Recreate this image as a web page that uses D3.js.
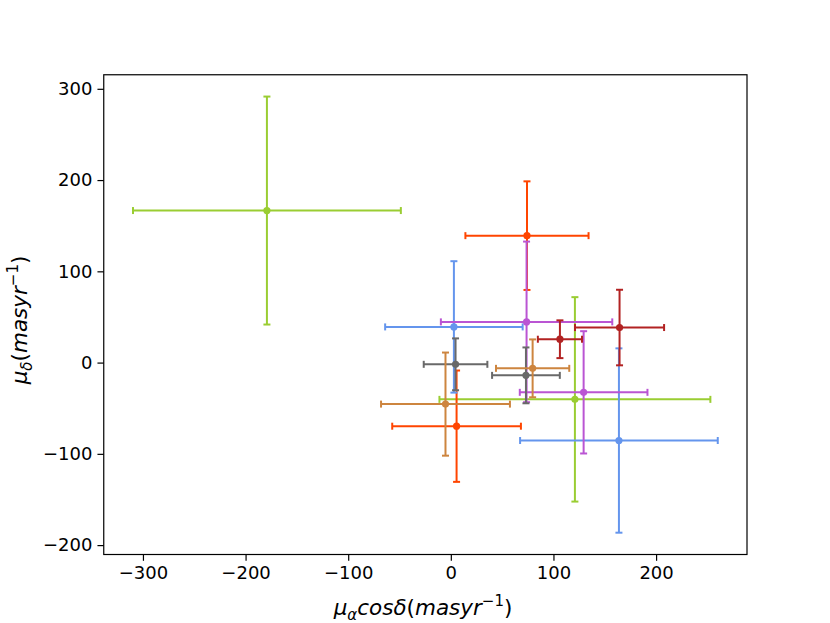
<!DOCTYPE html>
<html>
<head>
<meta charset="utf-8">
<script src="https://cdn.jsdelivr.net/npm/d3@7"></script>
<style>
  html, body { margin: 0; padding: 0; background: #fff; }
  svg { display: block; font-family: "DejaVu Sans", sans-serif; }
</style>
</head>
<body>
<svg id="chart" width="830" height="623"></svg>
<script>
// ---- data ----
const pmRA   = [-179.2, 120.9, 74.2, 5.6, 3.0, 163.8, 73.8, 129.4, 106.3, 164.4, 73.2, 4.6, -5.2, 79.7];
const pmDec  = [166.6, -40.3, 139.1, -69.7, 39.1, -85.4, 44.6, -32.6, 25.6, 38.4, -14.0, -1.9, -45.5, -6.3];
const errRA  = [130.5, 132.0, 60.0, 62.7, 67.0, 96.3, 83.5, 62.2, 21.5, 43.4, 33.0, 31.0, 62.8, 35.7];
const errDec = [124.9, 112.0, 59.5, 61.0, 72.0, 101.0, 88.0, 67.0, 20.7, 41.4, 30.6, 28.4, 56.5, 31.7];
const pointColors = ["#9acd32", "#9acd32", "#ff4500", "#ff4500", "#6495ed", "#6495ed",
                     "#ba55d3", "#ba55d3", "#b22222", "#b22222", "#696969", "#696969",
                     "#cd853f", "#cd853f"];
const xTicks = [-300, -200, -100, 0, 100, 200];
const yTicks = [-200, -100, 0, 100, 200, 300];

(function () {
const points = pmRA.map((v, i) => ({x: v, y: pmDec[i], ex: errRA[i], ey: errDec[i], c: pointColors[i]}));

// ---- layout ----
const mLeft = 103.75, mRight = 747, mTop = 74.76, mBottom = 554.5;

function padded(lo, hi) { const s = hi - lo; return [lo - 0.05 * s, hi + 0.05 * s]; }
const xd = padded(d3.min(points, d => d.x - d.ex), d3.max(points, d => d.x + d.ex));
const yd = padded(d3.min(points, d => d.y - d.ey), d3.max(points, d => d.y + d.ey));

const x = d3.scaleLinear().domain(xd).range([mLeft, mRight]);
const y = d3.scaleLinear().domain(yd).range([mBottom, mTop]);

const svg = d3.select("#chart");
const fmt = v => String(v).replace("-", "\u2212");

// axes
const xAxis = svg.append("g").attr("transform", `translate(0,${mBottom})`)
  .call(d3.axisBottom(x).tickValues(xTicks).tickFormat(fmt).tickSize(6.3).tickPadding(5));
const yAxis = svg.append("g").attr("transform", `translate(${mLeft},0)`)
  .call(d3.axisLeft(y).tickValues(yTicks).tickFormat(fmt).tickSize(6.3).tickPadding(5));
[xAxis, yAxis].forEach(g => {
  g.select(".domain").remove();
  g.selectAll(".tick line").attr("stroke", "#000").attr("stroke-width", 1.2);
  g.selectAll(".tick text").attr("fill", "#000")
    .style("font-family", "'DejaVu Sans', sans-serif").style("font-size", "18px");
});

// points
const plot = svg.append("g");
const capHalf = 3.5;
points.forEach(p => {
  const g = plot.append("g").attr("stroke", p.c).attr("stroke-width", 2).attr("fill", "none");
  const cx = x(p.x), cy = y(p.y);
  const x0 = x(p.x - p.ex), x1 = x(p.x + p.ex), y0 = y(p.y - p.ey), y1 = y(p.y + p.ey);
  g.append("line").attr("x1", x0).attr("x2", x1).attr("y1", cy).attr("y2", cy);
  g.append("line").attr("x1", cx).attr("x2", cx).attr("y1", y0).attr("y2", y1);
  [x0, x1].forEach(xx => g.append("line").attr("x1", xx).attr("x2", xx).attr("y1", cy - capHalf).attr("y2", cy + capHalf));
  [y0, y1].forEach(yy => g.append("line").attr("x1", cx - capHalf).attr("x2", cx + capHalf).attr("y1", yy).attr("y2", yy));
  g.append("circle").attr("cx", cx).attr("cy", cy).attr("r", 3.6).attr("fill", p.c).attr("stroke", "none");
});

// frame
svg.append("rect").attr("x", mLeft).attr("y", mTop).attr("width", mRight - mLeft).attr("height", mBottom - mTop)
  .attr("fill", "none").attr("stroke", "#000").attr("stroke-width", 1.2);

// labels
const LF = 21.5, SF = 15;
const xl = svg.append("text").attr("x", 423).attr("y", 615)
  .attr("text-anchor", "middle").style("font-size", LF + "px").attr("fill", "#000");
xl.append("tspan").attr("font-style", "italic").text("\u03bc");
xl.append("tspan").attr("font-style", "italic").attr("font-size", SF + "px").attr("dy", 4.5).text("\u03b1");
xl.append("tspan").attr("font-style", "italic").attr("dy", -4.5).text("cos\u03b4");
xl.append("tspan").text("(");
xl.append("tspan").attr("font-style", "italic").text("masyr");
xl.append("tspan").attr("font-size", SF + "px").attr("dy", -9).text("\u22121");
xl.append("tspan").attr("dy", 9).text(")");

const yl = svg.append("text").attr("transform", `translate(27,320) rotate(-90)`)
  .attr("text-anchor", "middle").style("font-size", LF + "px").attr("fill", "#000");
yl.append("tspan").attr("font-style", "italic").text("\u03bc");
yl.append("tspan").attr("font-style", "italic").attr("font-size", SF + "px").attr("dy", 4.5).text("\u03b4");
yl.append("tspan").attr("dy", -4.5).text("(");
yl.append("tspan").attr("font-style", "italic").text("masyr");
yl.append("tspan").attr("font-size", SF + "px").attr("dy", -9).text("\u22121");
yl.append("tspan").attr("dy", 9).text(")");
})();
</script>
</body>
</html>
